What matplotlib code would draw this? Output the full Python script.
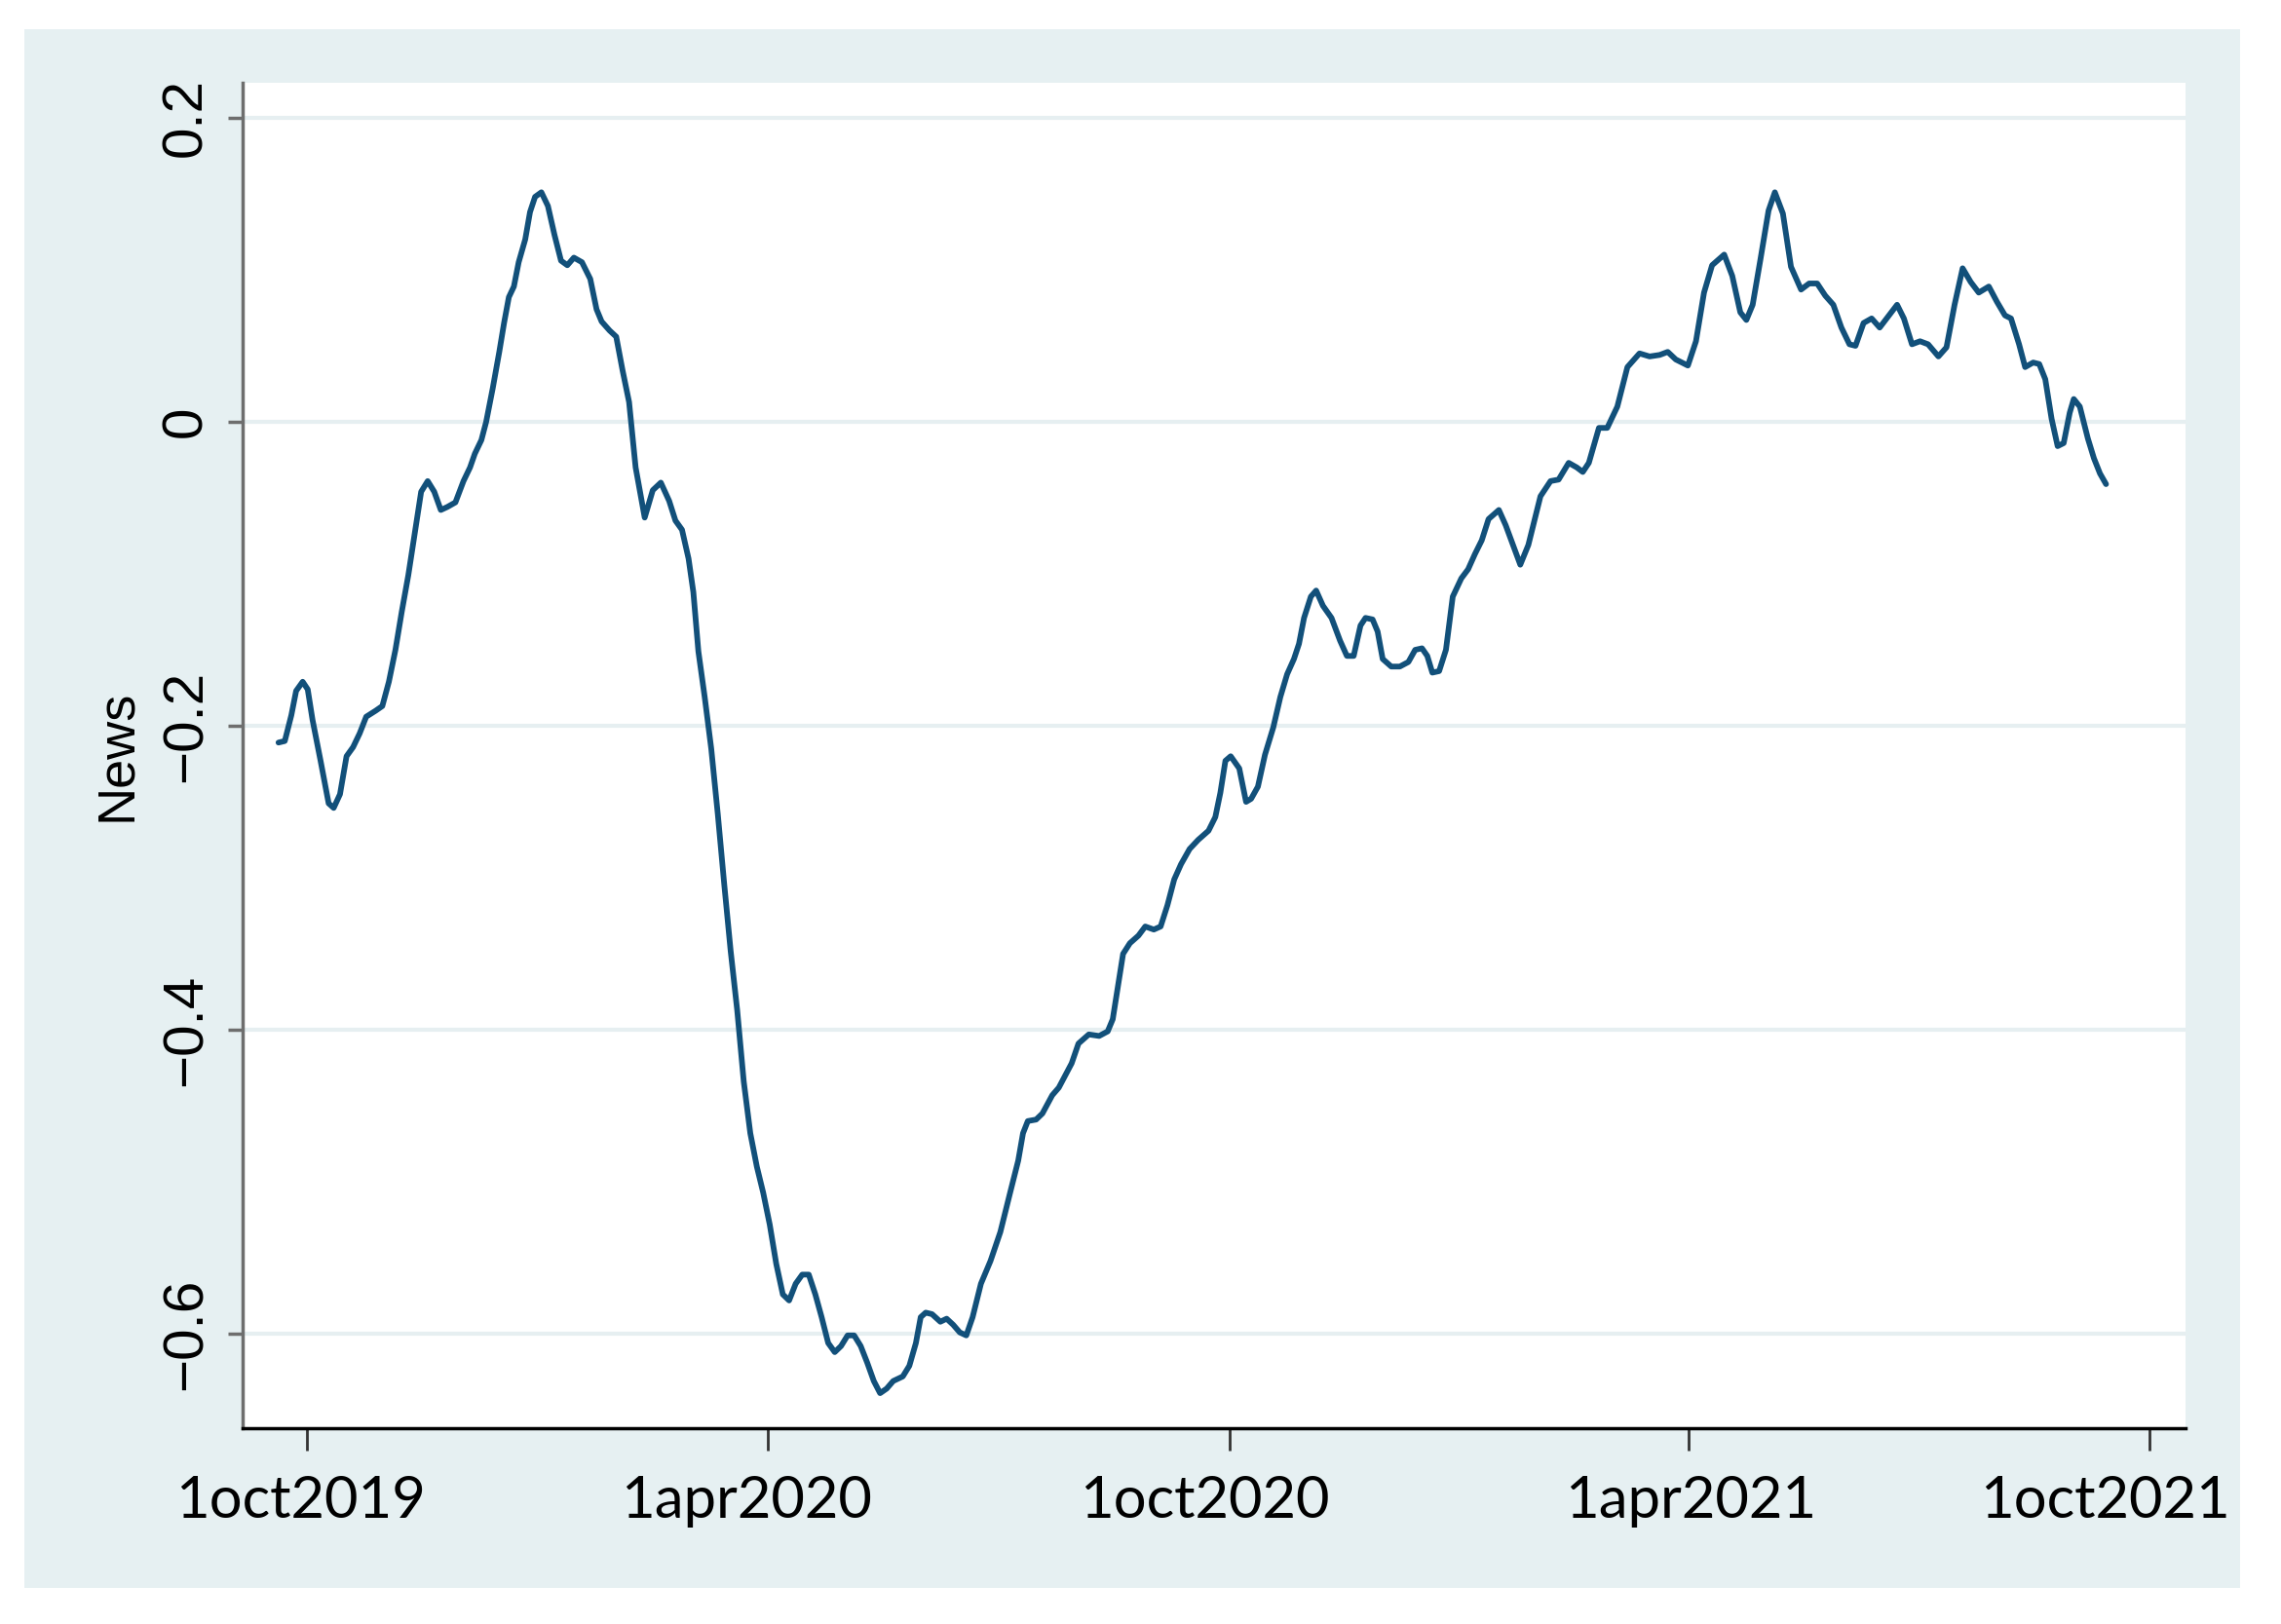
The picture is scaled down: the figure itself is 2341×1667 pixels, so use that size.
import datetime as dt
import matplotlib
matplotlib.use("Agg")
import matplotlib.pyplot as plt
import matplotlib.transforms as mtransforms
from matplotlib.patches import Rectangle

# days since 1oct2019 and the News index
days = [-11.3, -8.8, -6.2, -4.3, -1.7, 0.3, 2.2, 5.4, 8.6, 10.6, 13.1, 15.7, 18.3, 20.9,
        23.5, 27.3, 29.9, 32.5, 35.1, 37.6, 40.2, 42.8, 45.3, 47.9, 50.5, 53.1, 55.7, 58.9,
        62.1, 64.7, 66.6, 69.2, 71.1, 73.7, 76.3, 78.2, 80.1, 82.1, 84.0, 86.6, 88.5, 90.5,
        93.0, 95.6, 98.2, 100.8, 103.3, 105.9, 109.1, 112.4, 114.9, 116.9, 120.1, 122.7,
        125.2, 127.8, 130.4,
        134.0, 137.2, 140.4, 143.7, 146.2, 148.8, 151.4, 153.3, 155.3, 157.8, 160.4, 163.0,
        165.6, 168.1, 170.7, 173.3, 175.9, 178.5, 181.0, 183.6, 186.2, 188.8, 191.3, 193.9,
        196.5, 199.1, 201.7, 204.2, 206.8, 209.4, 211.9, 214.5, 217.1, 219.7, 222.3, 224.9,
        227.4, 230.0, 232.6, 236.4, 239.0, 241.6, 243.5, 245.5, 248.0, 251.3, 253.8, 256.4,
        259.0, 261.6, 264.1, 267.4, 271.2, 275.1, 279.0, 282.2, 284.1, 286.0, 289.3, 291.8,
        295.7, 298.3,
        303.4, 306.1, 310.2, 314.3, 317.7, 319.7, 321.8, 323.8, 326.5, 329.9, 332.6, 336.0,
        338.7, 341.4, 344.1, 346.8, 350.2, 353.6, 357.7, 360.4, 362.4, 364.4, 366.5, 369.9,
        372.6, 374.6, 377.3, 380.1, 383.4, 386.2, 388.9, 391.6, 393.6, 395.6, 398.3, 400.4,
        403.1, 406.5, 409.9, 412.6, 415.3, 418.0, 420.0, 422.8, 424.8, 426.8, 430.2, 433.6,
        437.0, 439.7, 442.4, 444.5, 446.5, 449.2, 451.9, 454.6, 458.0, 460.7, 463.4, 466.1,
        468.8, 472.9, 475.6,
        481.4, 484.6, 489.4, 493.4, 496.6, 500.6, 503.8, 506.2, 508.6, 512.6, 515.9, 519.9,
        523.9, 528.7, 532.7, 536.7, 539.9, 543.1, 547.9, 551.1, 554.3, 557.5, 562.3, 565.5,
        568.7, 571.1, 573.6, 576.7, 579.9, 582.4, 585.6, 588.8, 592.8, 596.0, 599.2, 602.4,
        605.6, 608.8, 612.0, 614.4, 617.6, 620.8, 624.0, 627.2, 630.9, 633.6, 636.8, 640.0,
        643.2, 647.3, 650.5, 653.7, 656.9, 660.1, 663.3, 667.3, 670.5, 673.7, 676.1, 679.3,
        681.7, 684.9, 687.3, 689.7, 692.2, 694.6, 697.0, 699.4, 701.0, 703.4, 706.6, 709.0,
        711.4, 713.8]

news = [-0.211, -0.210, -0.193, -0.177, -0.171, -0.176, -0.196, -0.223, -0.251, -0.254, -0.245,
        -0.220, -0.214, -0.205, -0.194, -0.190, -0.187, -0.171, -0.150, -0.125, -0.101, -0.073,
        -0.046, -0.039, -0.046, -0.058, -0.056, -0.053, -0.039, -0.030, -0.021, -0.012, 0.000,
        0.022, 0.046, 0.065, 0.082, 0.089, 0.105, 0.120, 0.138, 0.148, 0.151, 0.142, 0.123,
        0.106, 0.103, 0.108, 0.105, 0.094, 0.074, 0.066, 0.060, 0.056, 0.034, 0.013, -0.030,
        -0.063, -0.045, -0.040, -0.052, -0.065, -0.071, -0.090, -0.112, -0.151, -0.181, -0.215,
        -0.258, -0.305, -0.348, -0.387, -0.434, -0.468, -0.490, -0.507, -0.528, -0.554, -0.574,
        -0.578, -0.567, -0.561, -0.561, -0.574, -0.589, -0.606, -0.612, -0.608, -0.601, -0.601,
        -0.608, -0.619, -0.631, -0.639, -0.636, -0.631, -0.628, -0.621, -0.606, -0.589, -0.586,
        -0.587, -0.592, -0.590, -0.594, -0.599, -0.601, -0.589, -0.567, -0.552, -0.533, -0.507,
        -0.486, -0.468, -0.460, -0.459, -0.455, -0.443, -0.438,
        -0.422, -0.409, -0.403, -0.404, -0.401, -0.393, -0.371, -0.350, -0.343, -0.338, -0.332,
        -0.334, -0.332, -0.318, -0.301, -0.291, -0.281, -0.275, -0.269, -0.260, -0.244, -0.223,
        -0.220, -0.228, -0.250, -0.248, -0.240, -0.219, -0.201, -0.181, -0.166, -0.156, -0.146,
        -0.129, -0.115, -0.111, -0.121, -0.129, -0.144, -0.154, -0.154, -0.134, -0.129, -0.130,
        -0.138, -0.156, -0.161, -0.161, -0.158, -0.150, -0.149, -0.154, -0.165, -0.164, -0.150,
        -0.115, -0.103, -0.097, -0.087, -0.078, -0.064, -0.058, -0.068,
        -0.094, -0.081, -0.049, -0.039, -0.038, -0.027, -0.030, -0.033, -0.027, -0.004, -0.004,
        0.010, 0.036, 0.045, 0.043, 0.044, 0.046, 0.041, 0.037, 0.053, 0.085, 0.103, 0.110,
        0.096, 0.072, 0.067, 0.077, 0.107, 0.139, 0.151, 0.137, 0.102, 0.087, 0.091, 0.091,
        0.083, 0.077, 0.062, 0.051, 0.050, 0.065, 0.068, 0.062, 0.069, 0.077, 0.068, 0.051,
        0.053, 0.051, 0.043, 0.049, 0.077, 0.101, 0.092, 0.085, 0.089, 0.079, 0.070, 0.068,
        0.051, 0.036, 0.039, 0.038, 0.028, 0.002, -0.016, -0.014, 0.006, 0.015, 0.010, -0.011,
        -0.024, -0.034, -0.041]

xtick_dates = ["2019-10-01", "2020-04-01", "2020-10-01", "2021-04-01", "2021-10-01"]
xtick_labels = ["1oct2019", "1apr2020", "1oct2020", "1apr2021", "1oct2021"]
yticks = [0.2, 0, -0.2, -0.4, -0.6]
ytick_labels = ["0.2", "0", "\u22120.2", "\u22120.4", "\u22120.6"]

# the date labels in the picture sit a little off their ticks (pixels)
label_nudge = [-7, -22, -25, 3, -45]

base = dt.datetime(2019, 10, 1)
dates = [base + dt.timedelta(days=d) for d in days]

fig = plt.figure(figsize=(23.41, 16.67), dpi=100)
fig.patch.set_facecolor("white")
# stata-like graph region, behind the axes
panel = Rectangle((0.0107, 0.0222), 0.9714, 0.9598, transform=fig.transFigure,
                  facecolor="#e6f0f2", edgecolor="none", zorder=-10)
fig.add_artist(panel)

ax = fig.add_axes([0.1064, 0.1206, 0.8517, 0.8284])
ax.set_facecolor("white")

for y in yticks:
    ax.axhline(y, color="#e6eff1", lw=3, zorder=1)

ax.plot(dates, news, color="#12507a", lw=4.2, zorder=3,
        solid_joinstyle="round", solid_capstyle="round")

ax.set_xlim(base - dt.timedelta(days=25.5), base + dt.timedelta(days=745.3))
ax.set_ylim(-0.662, 0.223)

ax.set_xticks([dt.datetime.strptime(s, "%Y-%m-%d") for s in xtick_dates])
ax.set_xticklabels(xtick_labels, family="Lato", fontsize=43)
ax.set_yticks(yticks)
ax.set_yticklabels(ytick_labels, family="Liberation Sans", fontsize=42,
                   rotation=90, va="center")

ax.tick_params(axis="x", length=16.5, width=2, color="#333333", pad=18)
ax.tick_params(axis="y", length=11, width=2.5, color="#6e6e6e", pad=11)

for lab, dx in zip(ax.get_xticklabels(), label_nudge):
    shift = mtransforms.ScaledTranslation(dx / 100, 0, fig.dpi_scale_trans)
    lab.set_transform(lab.get_transform() + shift)

for s in ["top", "right"]:
    ax.spines[s].set_visible(False)
ax.spines["left"].set_color("#6e6e6e")
ax.spines["left"].set_linewidth(2.5)
ax.spines["bottom"].set_color("black")
ax.spines["bottom"].set_linewidth(2.5)

ax.set_ylabel("News", family="Liberation Sans", fontsize=39)
ax.yaxis.set_label_coords(-0.052, 0.5)

fig.savefig("out.png", dpi=100, facecolor=fig.get_facecolor())
